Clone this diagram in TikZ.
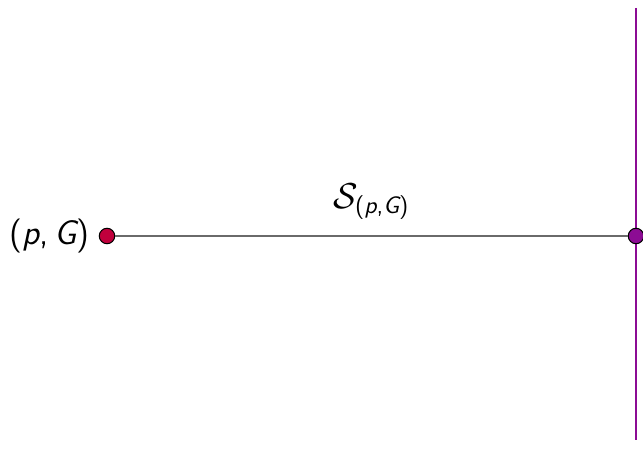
\documentclass[tikz,border=0pt]{standalone}
\usepackage{amsmath,amssymb}
\usepackage{tikz}
\usetikzlibrary{positioning}
\definecolor{Edge}{HTML}{6A6A6A}
\definecolor{Source}{HTML}{C0003C}
\definecolor{Wall}{HTML}{8C0C94}
\newcommand{\pGsf}{\text{\sffamily(\itshape p\upshape,\,\itshape G\upshape)}}
\newcommand{\pGsub}{\text{\sffamily(\itshape p\upshape,\itshape G\upshape)}}

\begin{document}
\begin{tikzpicture}[
 x=0.4pt,y=-0.4pt,
 pt/.style={circle,draw=black,line width=0.4pt,inner sep=0pt,minimum size=6.2pt},
 e/.style={draw=Edge,line width=0.5pt},
 w/.style={draw=Wall,line width=1pt},
 lab/.style={font=\fontsize{13.6}{16}\selectfont}
]
\useasboundingbox (0,0) rectangle (643,460);
\coordinate (top) at (636,8);
\coordinate (bot) at (636,440);
\draw[w] (top)--(bot);
\node[pt,fill=Source] (src) at (107,236) {};
\node[pt,fill=Wall] (hit) at (636,236) {};
\node[lab,left=0pt of src] (srclab) {$\pGsf$};
\draw[e] (src)--node[lab,above=3pt] (seg) {$\mathcal{S}_{\pGsub}$}(hit);
\end{tikzpicture}
\end{document}
